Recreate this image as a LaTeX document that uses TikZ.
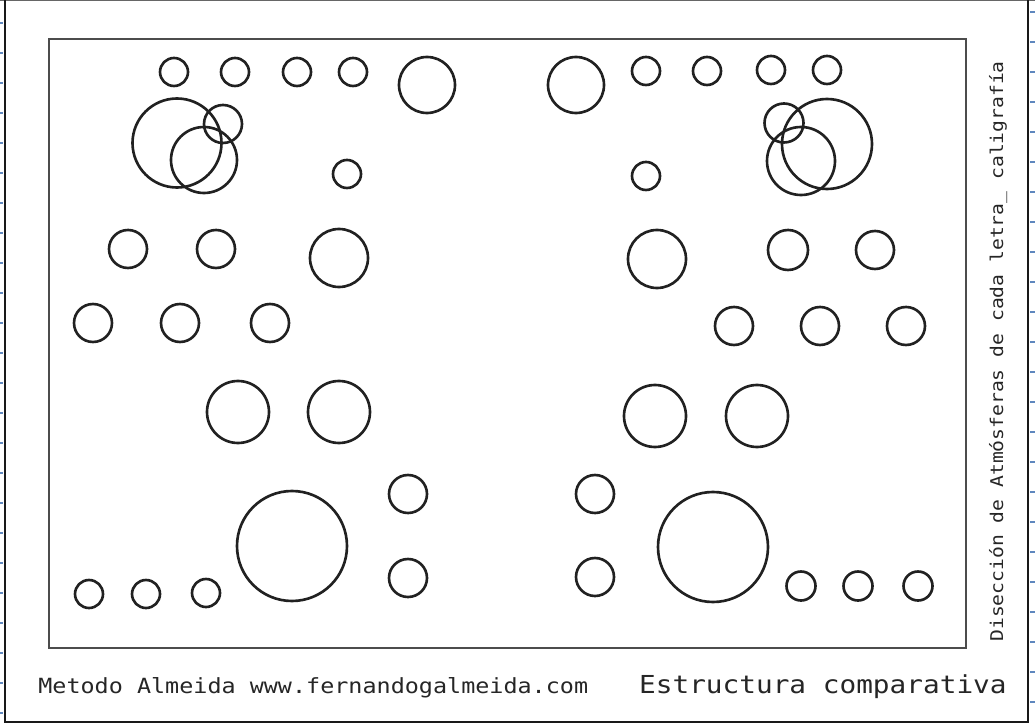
\documentclass[tikz,border=0pt]{standalone}
\usepackage{fontspec}
\newfontfamily\planfont[FakeStretch=1.12]{DejaVu Sans Mono}
\usetikzlibrary{positioning}
\definecolor{hoja}{RGB}{95,135,190}

\begin{document}
\begin{tikzpicture}[x=0.02cm,y=-0.02cm,
 ring/.style={draw=black!87,line width=1.5pt,circle,inner sep=0pt,outer sep=0pt},
 caption/.style={inner sep=0pt,text=black!85,font=\planfont},
 frame/.style={draw=black!70,line width=1pt}]
\useasboundingbox (0,0) rectangle (1035,726);
% hoja y marco exterior
\draw[black!60,line width=0.8pt] (0,0.5) -- (1035,0.5);
\draw[black!90,line width=1.6pt] (5,0) -- (5,722) -- (1028,722) -- (1028,0);
\foreach \k in {0,...,23} {
  \draw[hoja,line width=1.3pt] (0,23+30*\k) -- (3.5,23+30*\k);
  \draw[hoja,line width=1.3pt] (1030,12+30*\k) -- (1035,12+30*\k);
}
% marco interior
\node[frame,rectangle,inner sep=0pt,minimum width=917*0.02cm,minimum height=609*0.02cm,anchor=north west] (marco) at (48,38) {};
% atmosferas: x / y / radio
\foreach \x/\y/\r [count=\i] in {
  174/72/14, 235/72/14, 297/72/14, 353/72/14, 427/85/28,
  576/85/28, 646/71/14, 707/71/14, 771/70/14, 827/70/14,
  177/143/44.5, 204/160/33, 223/124/19, 347/174/14,
  827/144/45, 801/161/34, 784/123/19.5, 646/176/14,
  128/249/19, 216/249/19, 339/258/29,
  657/259/29, 788/250/20, 875/250/19,
  93/323/19, 180/323/19, 270/323/19,
  734/326/19, 820/326/19, 906/326/19,
  238/412/31, 339/412/31, 655/416/31, 757/416/31,
  408/494/19, 408/578/19, 595/494/19, 595/577/19,
  292/546/55, 713/547/55,
  89/594/14, 146/594/14, 206/593/14,
  801/586/14.5, 858/586/14.5, 918/586/14.5}
  \node[ring,minimum size=2*\r*0.02cm] (a\i) at (\x,\y) {};
% textos
\node[caption,font=\planfont\fontsize{11.9pt}{12pt}\selectfont,anchor=base west] (autor) at (38,693) {Metodo Almeida www.fernandogalmeida.com};
\node[caption,font=\planfont\fontsize{14.1pt}{15pt}\selectfont,anchor=base east] (titulo) at (1007,693) {Estructura comparativa};
\node[caption,font=\planfont\fontsize{10pt}{11pt}\selectfont,rotate=90,anchor=base west] (lateral) at (1003,642) {Disección de Atmósferas de cada letra\_ caligrafía};
\end{tikzpicture}
\end{document}
